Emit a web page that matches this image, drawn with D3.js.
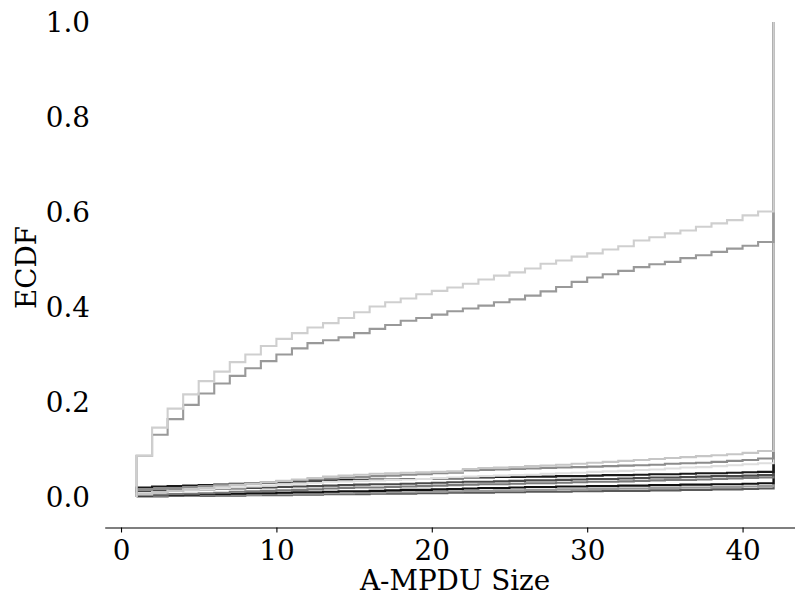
<!DOCTYPE html>
<html>
<head>
<meta charset="utf-8">
<script src="https://cdn.jsdelivr.net/npm/d3@7"></script>
<style>
  html, body { margin: 0; padding: 0; background: #fff; }
  svg { display: block; }
  text { font-family: "DejaVu Serif", serif; fill: #000; }
</style>
</head>
<body>
<svg id="chart" width="795" height="598"></svg>
<script>
// A-MPDU sizes 1..41 (step values), final jump to 1.0 at 42
const sizes = d3.range(1, 42);
const lastSize = 42;
const xTicks = [0, 10, 20, 30, 40];
const yTicks = [0.0, 0.2, 0.4, 0.6, 0.8, 1.0];

const ecdfH1 = [.087,.146,.186,.216,.244,.264,.284,.300,.318,.333,.345,.357,.366,.377,.389,.401,.410,.418,.427,.434,.441,.449,.458,.466,.473,.481,.491,.498,.506,.513,.521,.528,.540,.547,.555,.561,.569,.576,.583,.593,.601];
const ecdfH2 = [.087,.131,.164,.194,.218,.239,.255,.271,.286,.300,.313,.324,.330,.336,.345,.354,.362,.371,.377,.384,.391,.397,.403,.410,.416,.424,.433,.442,.453,.462,.469,.476,.484,.490,.495,.503,.509,.516,.523,.529,.537];
const ecdfL1 = [.006,.010,.013,.016,.019,.022,.025,.028,.031,.034,.037,.040,.043,.045,.047,.049,.050,.051,.052,.053,.054,.059,.061,.062,.063,.065,.066,.068,.070,.072,.074,.076,.078,.080,.082,.084,.086,.088,.090,.093,.097];
const ecdfL2 = [.015,.017,.019,.021,.023,.025,.027,.029,.031,.033,.035,.037,.039,.041,.042,.044,.045,.047,.048,.050,.051,.056,.057,.058,.059,.060,.061,.062,.063,.064,.065,.066,.067,.068,.070,.071,.072,.074,.076,.078,.081];
const ecdfL3 = [.008,.010,.012,.014,.016,.018,.020,.022,.024,.026,.028,.030,.032,.033,.034,.035,.036,.037,.038,.040,.041,.043,.044,.045,.046,.047,.049,.050,.051,.053,.054,.055,.057,.058,.060,.062,.063,.065,.067,.069,.071];
const ecdfL4 = [.020,.022,.023,.024,.025,.026,.028,.029,.030,.031,.033,.034,.035,.036,.036,.037,.037,.038,.038,.039,.039,.041,.041,.042,.042,.043,.043,.044,.044,.045,.046,.046,.047,.048,.048,.049,.050,.050,.051,.052,.053];
const ecdfL5 = [.012,.013,.014,.015,.016,.017,.018,.019,.020,.021,.022,.023,.024,.025,.026,.027,.027,.028,.029,.030,.031,.032,.032,.033,.034,.035,.035,.036,.037,.038,.038,.039,.040,.041,.041,.042,.043,.044,.044,.045,.046];
const ecdfL6 = [.004,.005,.006,.007,.008,.009,.011,.012,.013,.014,.015,.016,.018,.019,.020,.020,.021,.022,.023,.024,.025,.026,.027,.027,.028,.029,.029,.030,.031,.032,.032,.033,.034,.035,.036,.036,.037,.038,.039,.040,.041];
const ecdfL7 = [.003,.004,.004,.005,.006,.006,.007,.008,.008,.009,.010,.010,.011,.012,.012,.013,.014,.015,.015,.016,.017,.018,.019,.019,.020,.021,.021,.022,.022,.023,.023,.024,.024,.025,.025,.026,.026,.027,.027,.028,.029];
const ecdfL8 = [.002,.002,.003,.003,.004,.004,.005,.005,.006,.006,.007,.007,.008,.008,.009,.009,.010,.010,.011,.011,.012,.013,.013,.014,.014,.015,.015,.016,.016,.017,.017,.018,.018,.019,.019,.020,.020,.021,.021,.022,.023];
const ecdfL9 = [.001,.001,.002,.002,.002,.003,.003,.004,.004,.004,.005,.005,.006,.006,.006,.007,.007,.007,.008,.008,.009,.009,.009,.010,.010,.011,.011,.011,.012,.012,.013,.013,.013,.014,.014,.015,.015,.016,.016,.017,.018];

const seriesList = [
  { values: ecdfL9, color: "#595959" },
  { values: ecdfL8, color: "#9a9a9a" },
  { values: ecdfL7, color: "#111111" },
  { values: ecdfL6, color: "#7a7a7a" },
  { values: ecdfL5, color: "#4a4a4a" },
  { values: ecdfL4, color: "#1a1a1a" },
  { values: ecdfL3, color: "#dedede" },
  { values: ecdfL2, color: "#8c8c8c" },
  { values: ecdfL1, color: "#c6c6c6" },
  { values: ecdfH2, color: "#999999" },
  { values: ecdfH1, color: "#cfcfcf" }
];

const svg = d3.select("#chart");

const x = d3.scaleLinear().domain([-1.05, 44.05]).range([104.7, 805.5]);
const y = d3.scaleLinear().domain([0, 1]).range([497, 22]);
const axisY = 527.5;

const line = d3.line()
  .x(d => x(d[0]))
  .y(d => y(d[1]))
  .curve(d3.curveStepAfter);

seriesList.forEach(s => {
  const pts = [[sizes[0], 0]];
  sizes.forEach((sz, i) => pts.push([sz, s.values[i]]));
  pts.push([lastSize, 1.0]);
  svg.append("path")
    .attr("d", line(pts))
    .attr("fill", "none")
    .attr("stroke", s.color)
    .attr("stroke-width", 2.1)
    .attr("stroke-linejoin", "miter");
});

// x axis (bottom spine, offset)
const xAxis = d3.axisBottom(x)
  .tickValues(xTicks)
  .tickFormat(d3.format("d"))
  .tickSizeInner(5)
  .tickSizeOuter(0)
  .tickPadding(8);

const gx = svg.append("g")
  .attr("transform", `translate(0,${axisY})`)
  .call(xAxis);
gx.select(".domain").attr("stroke", "#000").attr("stroke-width", 1.1);
gx.selectAll(".tick line").attr("stroke", "#000").attr("stroke-width", 1.1);
gx.selectAll(".tick text")
  .style("font-family", "'DejaVu Serif', serif")
  .style("font-size", "27.8px")
  .attr("fill", "#000");

// y tick labels (no spine, no tick marks)
const gy = svg.append("g");
gy.selectAll("text")
  .data(yTicks)
  .join("text")
  .attr("x", 90)
  .attr("y", d => y(d))
  .attr("dy", "0.36em")
  .attr("text-anchor", "end")
  .style("font-size", "27.8px")
  .text(d => d3.format(".1f")(d));

// axis labels
svg.append("text")
  .attr("x", (x(-1.05) + x(44.05)) / 2)
  .attr("y", 590)
  .attr("text-anchor", "middle")
  .style("font-size", "27.8px")
  .text("A-MPDU Size");

svg.append("text")
  .attr("transform", `translate(36,${y(0.5) + 8}) rotate(-90)`)
  .attr("text-anchor", "middle")
  .style("font-size", "27.8px")
  .text("ECDF");
</script>
</body>
</html>
